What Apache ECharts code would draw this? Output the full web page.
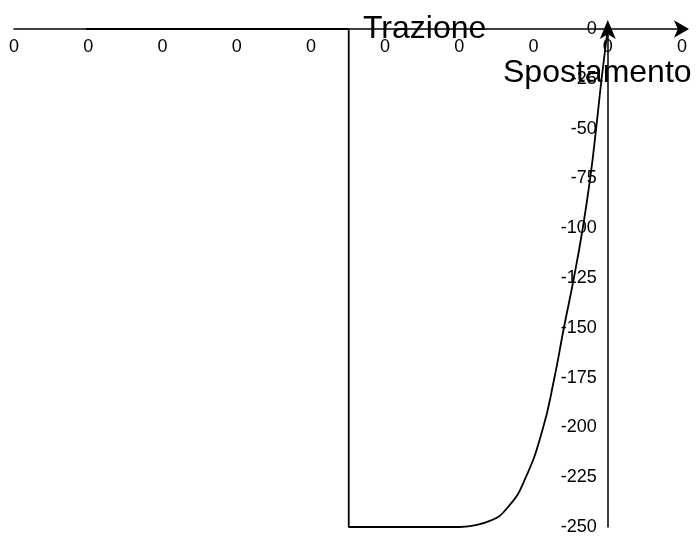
<!DOCTYPE html>
<html>
<head>
<meta charset="UTF-8">
<title></title>
<style type="text/css">
	* { margin: 0; padding: 0; }
	#chart { width: 698px; height: 536px; background: #fff; }
</style>
</head>
<body>
<div id="chart"></div>
<script src="https://cdn.jsdelivr.net/npm/echarts@6/dist/echarts.min.js"></script>
<script type="text/javascript">
	// tratto rettilineo (spostamento x, trazione y)
	var spostamentoRetta = [-0.00703, -0.00349, -0.00349, -0.00199];
	var trazioneRetta = [0, 0, -250, -250];
	// tratto curvo
	var spostamentoCurva = [-0.00199, -0.00158, -0.00134, -0.00112, -0.00088, -0.000725,
		-0.000597, -0.000462, -0.000341, -0.00024, -0.000159, -0.000085, 0];
	var trazioneCurva = [-250, -246.8, -239.8, -226.4, -201.3, -176.2,
		-151.1, -126, -100.9, -75.8, -50.7, -25.6, 0];

	var xMin = -0.008, xMax = 0.001, xStep = 0.001;
	var yMin = -250, yMax = 0, yStep = 25;

	function toPoints(xs, ys) {
		var pts = [];
		for (var i = 0; i < xs.length; i++) {
			pts.push([xs[i], ys[i]]);
		}
		return pts;
	}

	var W = 698, gLeft = 14, gRight = 16;
	// l'asse y sta su x = 0: lo sposto dentro la griglia con un offset negativo
	var yOffset = -(W - gLeft - gRight) * (0 - xMin) / (xMax - xMin);

	var chart = echarts.init(document.getElementById('chart'));
	var font = 'Liberation Sans, Arial, sans-serif';
	chart.setOption({
		animation: false,
		grid: { left: gLeft, right: gRight, top: 29, bottom: 9, outerBoundsMode: 'none', containLabel: false },
		xAxis: {
			type: 'value',
			position: 'top',
			min: xMin, max: xMax, interval: xStep,
			axisLine: {
				onZero: false,
				symbol: ['none', 'arrow'],
				symbolSize: [13, 15],
				symbolOffset: [0, 7],
				lineStyle: { color: '#000', width: 1.5 }
			},
			axisTick: { show: false },
			splitLine: { show: false },
			axisLabel: {
				inside: true,
				margin: 9,
				color: '#000',
				fontSize: 18,
				fontFamily: font,
				formatter: function (v) { return String(Math.round(v)); }
			}
		},
		yAxis: {
			type: 'value',
			position: 'left',
			offset: yOffset,
			min: yMin, max: yMax, interval: yStep,
			axisLine: {
				onZero: false,
				symbol: ['none', 'arrow'],
				symbolSize: [12, 19],
				symbolOffset: [0, 9],
				lineStyle: { color: '#000', width: 1.5 }
			},
			axisTick: { show: false },
			splitLine: { show: false },
			axisLabel: {
				margin: 11,
				color: '#000',
				fontSize: 18,
				fontFamily: font
			}
		},
		graphic: [
			{
				type: 'text', left: 363, top: 13, z: 100,
				style: { text: 'Trazione', fontSize: 32, fontFamily: font, fill: '#000' }
			},
			{
				type: 'text', left: 503, top: 57, z: 100,
				style: { text: 'Spostamento', fontSize: 32, fontFamily: font, fill: '#000' }
			}
		],
		series: [{
			type: 'line',
			data: toPoints(spostamentoRetta, trazioneRetta),
			symbol: 'none',
			smooth: false,
			lineStyle: { color: '#000', width: 1.8 }
		}, {
			type: 'line',
			data: toPoints(spostamentoCurva, trazioneCurva),
			symbol: 'none',
			smooth: 0.5,
			lineStyle: { color: '#000', width: 1.8 }
		}]
	});
</script>
</body>
</html>
